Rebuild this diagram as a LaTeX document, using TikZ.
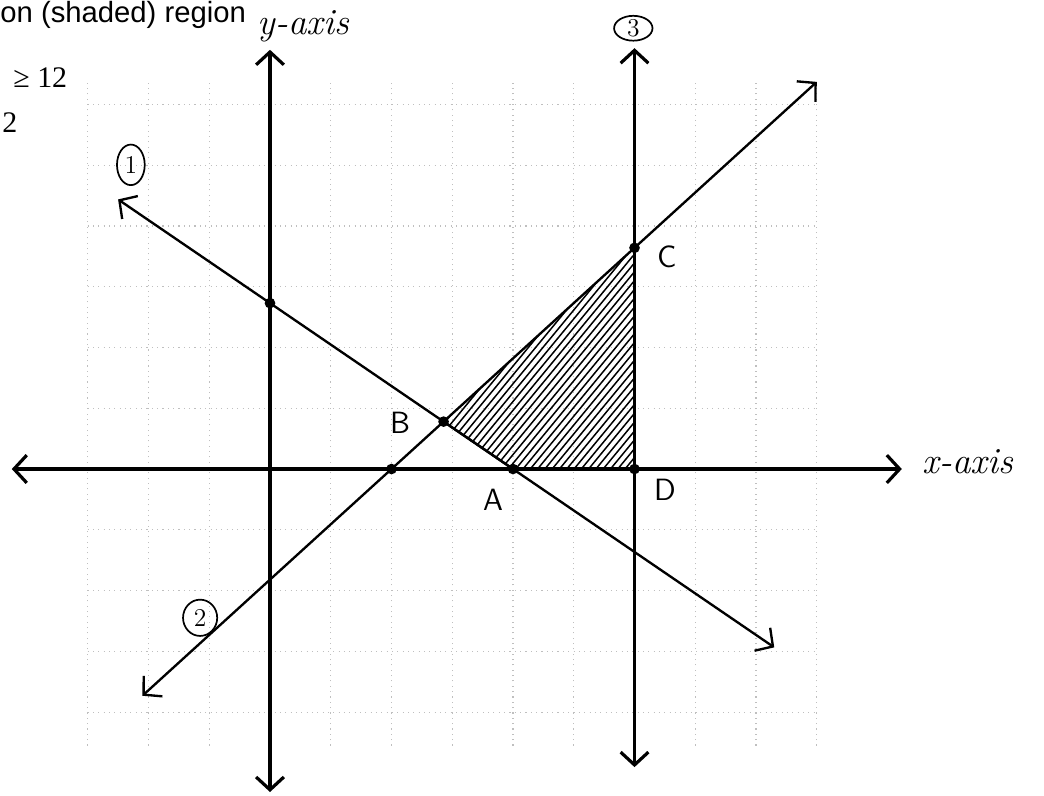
\documentclass[tikz,border=0pt]{standalone}
\usepackage{fontspec}
\newfontfamily\headfont{Liberation Sans}
\newfontfamily\ineqfont{Liberation Serif}
\usetikzlibrary{arrows.meta,calc,shapes.geometric}

\tikzset{
  gridline/.style={gray!50, dotted, line width=0.5pt},
  barbs/.style={{Straight Barb[length=6pt,width=13pt]}-{Straight Barb[length=6pt,width=13pt]}},
  axisline/.style={line width=1.5pt, barbs},
  gline/.style={line width=1.1pt, barbs},
  corner/.style={circle, fill=black, inner sep=0pt, minimum size=5pt},
  ptlabel/.style={font=\sffamily\Large},
  linenum/.style={draw, ellipse, inner sep=0pt, line width=0.8pt, font=\large},
  handtext/.style={font=\itshape\LARGE},
}

\begin{document}
\begin{tikzpicture}[x=1cm, y=0.9103cm]

% Frame
\useasboundingbox (-4.444,-5.895) rectangle (12.74,8.481);

% Grid
\draw[gridline] (-3,-5) grid (9,7);

% Cut off text at top left
\node[anchor=base west, inner sep=0, font=\headfont\fontsize{13.7}{16}\selectfont] (head) at (-4.444,8.07) {on (shaded) region};
\node[anchor=base west, inner sep=0, font=\ineqfont\fontsize{14}{16}\selectfont] (ineqa) at (-4.23,6.89) {≥ 12};
\node[anchor=base west, inner sep=0, font=\ineqfont\fontsize{14}{16}\selectfont] (ineqb) at (-4.41,6.08) {2};

% Axes
\coordinate (xl) at (-4.25,0);
\coordinate (xr) at (10.4,0);
\coordinate (yt) at (0,7.58);
\coordinate (yb) at (0,-5.84);
\draw[axisline] (xl) -- (xr);
\draw[axisline] (yb) -- (yt);
\node[handtext, anchor=west] (xname) at (10.62,0.13) {x-axis};
\node[handtext] (yname) at (0.55,8.0) {y-axis};

% Corner points
\node[corner] (A) at (4,0) {};
\node[corner] (B) at (20/7,6/7) {};
\node[corner] (C) at (6,4) {};
\node[corner] (D) at (6,0) {};
\node[corner] (P) at (2,0) {};
\node[corner] (Q) at (0,3) {};

% Shaded region
\begin{scope}
\clip (B.center) -- (A.center) -- (D.center) -- (C.center) -- cycle;
\foreach \i in {0,...,50}
  \draw[line width=0.7pt] ($(B.center)+(-3+\i*0.12,-1)$) -- ++(3,4);
\end{scope}
\draw[line width=1.1pt] (B.center) -- (A.center) -- (D.center);

% Line 1: 3x + 4y = 12
\coordinate (L1a) at (-2.5,4.875);
\coordinate (L1b) at (8.3,-3.225);
\draw[gline] (L1a) -- (L1b);
\node[linenum, minimum width=13pt, minimum height=19pt] (n1) at (-2.29,5.5) {1};

% Line 2: x - y = 2
\coordinate (L2a) at (-2.1,-4.1);
\coordinate (L2b) at (9,7);
\draw[gline] (L2a) -- (L2b);
\node[linenum, minimum width=16pt, minimum height=17pt] (n2) at (-1.15,-2.69) {2};

% Line 3: x = 6
\coordinate (L3a) at (6,-5.39);
\coordinate (L3b) at (6,7.61);
\draw[axisline] (L3a) -- (L3b);
\node[linenum, minimum width=18pt, minimum height=11pt] (n3) at (5.98,7.97) {3};

% Point labels
\node[ptlabel] (Aname) at (3.67,-0.56) {A};
\node[ptlabel] (Bname) at (2.14,0.83) {B};
\node[ptlabel] (Cname) at (6.53,3.83) {C};
\node[ptlabel] (Dname) at (6.5,-0.38) {D};

\end{tikzpicture}
\end{document}
